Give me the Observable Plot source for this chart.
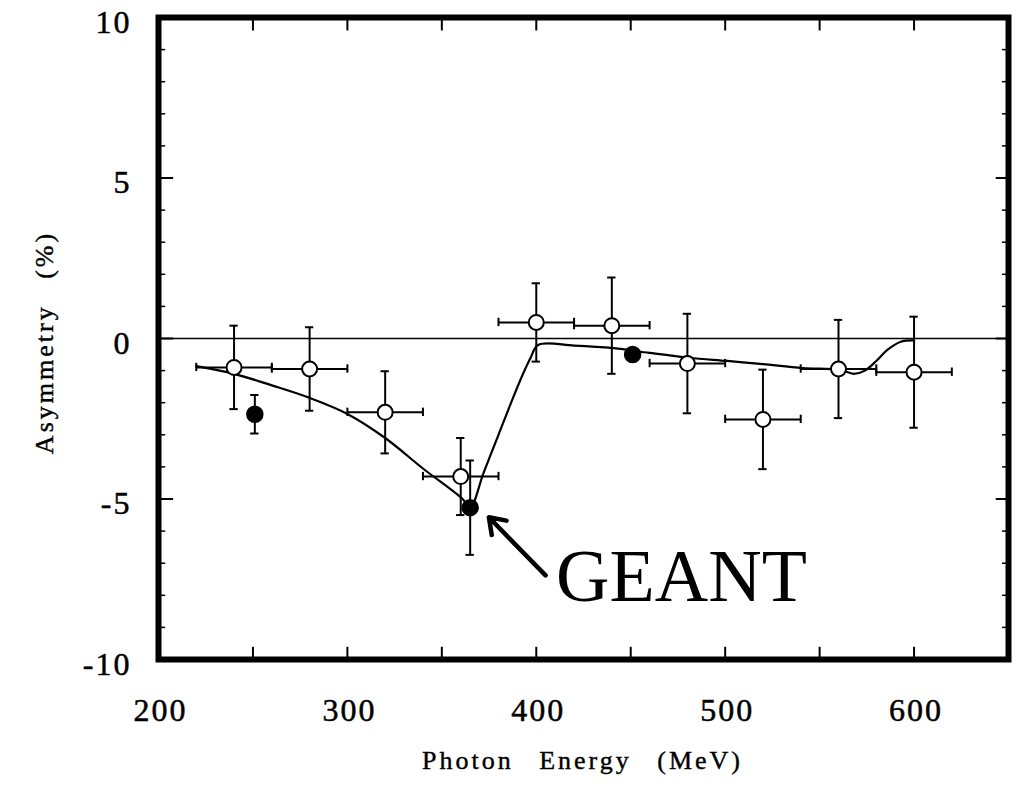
<!DOCTYPE html>
<html><head><meta charset="utf-8">
<script src="https://cdn.jsdelivr.net/npm/d3@7"></script>
<script src="https://cdn.jsdelivr.net/npm/@observablehq/plot@0.6"></script>
<style>
body{margin:0;background:#fff;}
#chart svg{display:block;}
</style></head>
<body><div id="chart"></div>
<script>
// Measured asymmetry (open circles)
const openX    = [240, 280, 320, 360, 400, 440, 480, 520, 560, 600];
const openY    = [-0.9, -0.95, -2.3, -4.3, 0.5, 0.4, -0.78, -2.52, -0.95, -1.05];
const openYErr = [1.3, 1.3, 1.28, 1.2, 1.22, 1.5, 1.55, 1.55, 1.53, 1.73];
const openXErr = [20, 20, 20, 20, 20, 20, 20, 20, 20, 20];
// Filled circles
const filledX    = [251, 365, 451];
const filledY    = [-2.36, -5.27, -0.5];
const filledYErr = [0.6, 1.47, 0];
// GEANT simulation curve
const geantX = [220, 240, 260, 280, 300, 320, 340, 361, 365, 372, 380, 387, 393, 397, 401, 420, 441, 460, 481, 501, 520, 541, 561, 568, 574, 580, 586, 593, 600];
const geantY = [-0.86, -1.1, -1.46, -1.85, -2.35, -3.1, -4.05, -5.0, -5.27, -4.2, -3.0, -1.95, -1.1, -0.6, -0.2, -0.22, -0.3, -0.45, -0.6, -0.7, -0.8, -0.92, -0.98, -1.1, -1.0, -0.7, -0.35, -0.1, -0.06];
// Axis ticks and labels
const xTickLabels = [200, 300, 400, 500, 600];
const yTickLabels = [-10, -5, 0, 5, 10];
const xTicks = [250, 300, 350, 400, 450, 500, 550, 600];
const yMinorTicks = [-9, -8, -7, -6, -4, -3, -2, -1, 1, 2, 3, 4, 6, 7, 8, 9];
const yMajorTicks = [-5, 0, 5];
const xTitle = "Photon Energy (MeV)";
const yTitle = "Asymmetry (%)";
const annotation = "GEANT";

const openData = openX.map((x, i) => ({x, y: openY[i], ey: openYErr[i], ex: openXErr[i]}));
const filledData = filledX.map((x, i) => ({x, y: filledY[i], ey: filledYErr[i]}));
const filledErr = filledData.filter(d => d.ey > 0);
const geant = geantX.map((x, i) => ({x, y: geantY[i]}));

const serif = "'Liberation Serif', 'Times New Roman', serif";
const capX = 2.2, capY = 0.13;

const chart = Plot.plot({
  width: 1025, height: 787,
  marginLeft: 158, marginRight: 17, marginTop: 17, marginBottom: 128,
  style: {fontFamily: serif, background: "#fff", color: "#000"},
  x: {domain: [200, 650], label: null},
  y: {domain: [-10, 10], label: null},
  marks: [
    Plot.ruleY([0], {stroke: "#000", strokeWidth: 1.5}),
    // inward ticks
    Plot.ruleX(xTicks, {x: d => d, y1: -10, y2: -9.62, stroke: "#000", strokeWidth: 2}),
    Plot.ruleX(xTicks, {x: d => d, y1: 10, y2: 9.58, stroke: "#000", strokeWidth: 2}),
    Plot.ruleY(yMinorTicks, {y: d => d, x1: 200, x2: 203.8, stroke: "#000", strokeWidth: 1.5}),
    Plot.ruleY(yMinorTicks, {y: d => d, x1: 650, x2: 646.8, stroke: "#000", strokeWidth: 1.5}),
    Plot.ruleY(yMajorTicks, {y: d => d, x1: 200, x2: 208, stroke: "#000", strokeWidth: 2}),
    Plot.ruleY(yMajorTicks, {y: d => d, x1: 650, x2: 643.5, stroke: "#000", strokeWidth: 2}),
    // open error bars
    Plot.ruleX(openData, {x: "x", y1: d => d.y - d.ey, y2: d => d.y + d.ey, stroke: "#000", strokeWidth: 2}),
    Plot.ruleY(openData, {y: d => d.y + d.ey, x1: d => d.x - capX, x2: d => d.x + capX, stroke: "#000", strokeWidth: 2}),
    Plot.ruleY(openData, {y: d => d.y - d.ey, x1: d => d.x - capX, x2: d => d.x + capX, stroke: "#000", strokeWidth: 2}),
    Plot.ruleY(openData, {y: "y", x1: d => d.x - d.ex, x2: d => d.x + d.ex, stroke: "#000", strokeWidth: 2}),
    Plot.ruleX(openData, {x: d => d.x - d.ex, y1: d => d.y - capY, y2: d => d.y + capY, stroke: "#000", strokeWidth: 2}),
    Plot.ruleX(openData, {x: d => d.x + d.ex, y1: d => d.y - capY, y2: d => d.y + capY, stroke: "#000", strokeWidth: 2}),
    // filled error bars
    Plot.ruleX(filledErr, {x: "x", y1: d => d.y - d.ey, y2: d => d.y + d.ey, stroke: "#000", strokeWidth: 2}),
    Plot.ruleY(filledErr, {y: d => d.y + d.ey, x1: d => d.x - capX, x2: d => d.x + capX, stroke: "#000", strokeWidth: 2}),
    Plot.ruleY(filledErr, {y: d => d.y - d.ey, x1: d => d.x - capX, x2: d => d.x + capX, stroke: "#000", strokeWidth: 2}),
    // GEANT curve
    Plot.line(geant, {x: "x", y: "y", stroke: "#000", strokeWidth: 2.2, curve: "catmull-rom"}),
    // points
    Plot.dot(openData, {x: "x", y: "y", r: 7.5, fill: "#fff", stroke: "#000", strokeWidth: 2}),
    Plot.dot(filledData, {x: "x", y: "y", r: 8, fill: "#000", stroke: "#000"}),
    // annotation
    Plot.arrow([annotation], {x1: 404.9, y1: -7.38, x2: 374.9, y2: -5.57, stroke: "#000", strokeWidth: 4.5, headLength: 6, headAngle: 70}),
    Plot.text([annotation], {x: 410.5, y: -7.44, text: d => d, textAnchor: "start", lineAnchor: "middle", fontSize: 74, fontFamily: serif, fill: "#000"}),
    // frame
    Plot.frame({stroke: "#000", strokeWidth: 6}),
    // axes
    Plot.axisX(xTickLabels, {anchor: "bottom", tickSize: 0, tickPadding: 39, fontSize: 32, fontFamily: serif, tickFormat: d => String(d), dx: 2}),
    Plot.axisY(yTickLabels, {anchor: "left", tickSize: 0, tickPadding: 27, fontSize: 32, fontFamily: serif, tickFormat: d => String(d), dy: 5}),
    Plot.text([xTitle], {frameAnchor: "bottom", dy: 101, dx: -1, text: d => d, textAnchor: "middle", lineAnchor: "middle", fontSize: 26, fontFamily: serif, fill: "#000"}),
    Plot.text([yTitle], {frameAnchor: "left", dx: -114, dy: 4, rotate: -90, text: d => d, textAnchor: "middle", lineAnchor: "middle", fontSize: 26, fontFamily: serif, fill: "#000"})
  ]
});
// widen letter and word spacing as in the scanned original
d3.select(chart).selectAll("text").each(function() {
  const t = this.textContent;
  if (t === xTitle || t === yTitle) {
    d3.select(this).style("letter-spacing", "3px").style("word-spacing", "16px")
      .style("stroke", "#000").style("stroke-width", "0.4px");
  } else if (/^-?\d+$/.test(t)) {
    d3.select(this).style("letter-spacing", "2px")
      .style("stroke", "#000").style("stroke-width", "0.5px");
  }
});
document.getElementById("chart").append(chart);
</script>
</body></html>
